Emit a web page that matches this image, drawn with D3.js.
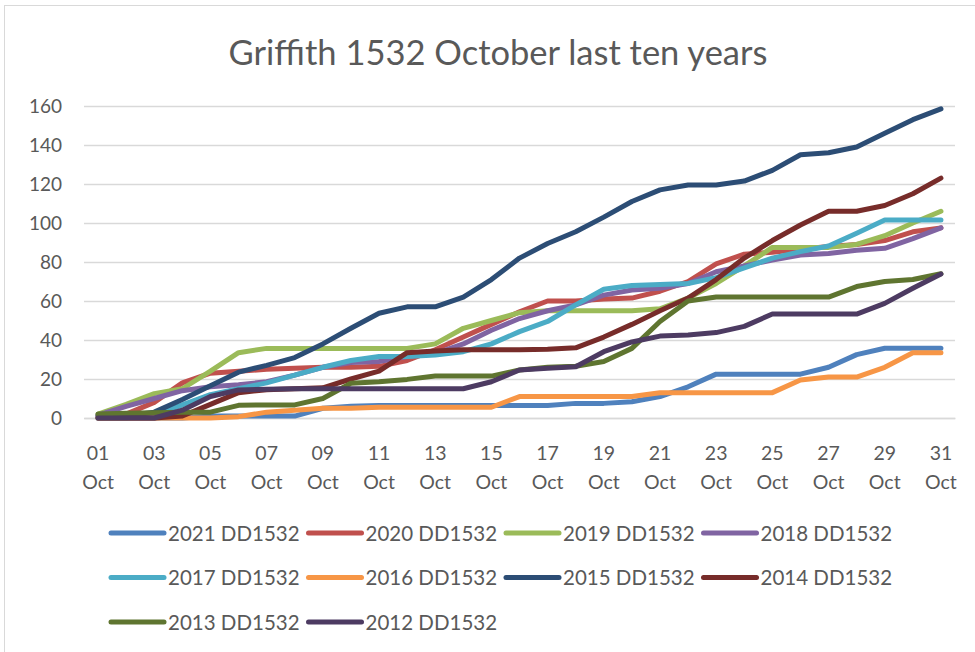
<!DOCTYPE html>
<html>
<head>
<meta charset="utf-8">
<script src="https://cdn.jsdelivr.net/npm/d3@7"></script>
<style>
  body { margin: 0; background: #fff; }
  text { font-family: Lato, "Open Sans", sans-serif; fill: #595959; }
</style>
</head>
<body>
<div id="viz"></div>
<script>
// day labels along the bottom (only odd days get a label)
const days = d3.range(1, 32).map(d => String(d).padStart(2, '0'));
const yTicks = [0, 20, 40, 60, 80, 100, 120, 140, 160];

// cumulative rain per day
const y2021 = [0,0,0,0,1,1,1,1,5,6,6.4,6.4,6.4,6.4,6.4,6.4,6.4,7.5,7.5,8.3,11,16,22.5,22.5,22.5,22.5,26,32.5,35.8,35.8,35.8];
const y2020 = [1,2,8,18,23,24,25,25.5,26,26,26.5,29.5,35,41.5,48,54.5,60,60,61,61.5,65,70,79,84,85,86.5,88,89,91,95.5,97.5];
const y2019 = [2,7,12.5,15,24,33.5,35.7,35.7,35.7,35.7,35.7,35.7,38,46,50,54,55,55,55,55,56,61.5,69,78,87.5,87.5,87.5,89,93.5,100,106];
const y2018 = [1.5,6,10,14,16,17,18.6,22,26,28.5,29,31.5,33,38,45,51,55,58,63,65.6,66.5,69,75,78,81,83.6,84.4,86,87,92,97.5];
const y2017 = [0,0,1.5,6.7,12,15,18,22,26,29.5,31.5,31.5,32.3,34,38,44.3,49.5,58,66,68,68.5,69,72,77,82,85.3,88.2,94.7,101.5,101.5,101.5];
const y2016 = [0,0,0,0,0,0.7,3,4,5,5,5.5,5.5,5.5,5.5,5.5,11,11,11,11,11,13,13,13,13,13,19.5,21,21,26,33.5,33.5];
const y2015 = [1,1,3,9.5,16.5,23.5,27,31,38,46,53.7,57,57,62,71,82,89.5,95.5,103,111,117,119.5,119.5,121.5,127,135,136,139,146,153,158.5];
const y2014 = [0,0,0,1,7,13,14.5,15,15.5,20,24,33.5,34.4,35,35,35,35.2,36,41.5,48,55,61.5,71,82,91,99,106,106,109,115,123];
const y2013 = [2,2.5,2.7,3,3,6.5,6.7,6.7,10,17.8,18.6,19.8,21.5,21.5,21.5,24.6,26,26.5,29,35.7,49.5,60,62,62,62,62,62,67.4,70,71,74];
const y2012 = [0,0,0,4,11,14.4,14.7,15,15,15,15,15,15,15,18.6,24.6,25.5,26.3,34,39,42,42.6,43.8,47,53.3,53.3,53.3,53.3,58.8,66.5,73.8];

const seriesNames = ['2021 DD1532','2020 DD1532','2019 DD1532','2018 DD1532','2017 DD1532',
                     '2016 DD1532','2015 DD1532','2014 DD1532','2013 DD1532','2012 DD1532'];
const seriesValues = [y2021, y2020, y2019, y2018, y2017, y2016, y2015, y2014, y2013, y2012];
const seriesColors = ['#4F81BD','#C0504D','#9BBB59','#8064A2','#4BACC6',
                      '#F79646','#2C4D75','#772C2A','#5F7530','#4D3B62'];

const width = 975, height = 652;
const margin = {top: 106, right: 20, bottom: 234, left: 84};

const svg = d3.select('#viz').append('svg')
    .attr('width', width)
    .attr('height', height);

// chart frame
svg.append('rect')
    .attr('x', 4.5).attr('y', 5.5)
    .attr('width', 990).attr('height', 680)
    .attr('fill', 'none')
    .attr('stroke', '#d9d9d9');

svg.append('text')
    .attr('x', 498).attr('y', 65)
    .attr('text-anchor', 'middle')
    .style('font-size', '34.5px')
    .text('Griffith 1532 October last ten years');

const x = d3.scaleBand()
    .domain(days)
    .range([margin.left, 955]);

const y = d3.scaleLinear()
    .domain([0, 160])
    .range([height - margin.bottom, margin.top]);

// gridlines + y labels
const yAxis = svg.append('g')
    .attr('transform', `translate(${margin.left},0)`)
    .call(d3.axisLeft(y).tickValues(yTicks).tickSize(-(955 - margin.left)).tickPadding(22));
yAxis.select('.domain').remove();
yAxis.selectAll('line').attr('stroke', '#d9d9d9').attr('stroke-width', 1.5);
yAxis.selectAll('text').style('font-size', '19px').attr('fill', '#595959');

// x labels, two lines each
const xAxis = svg.append('g')
    .attr('transform', `translate(0,${y(0)})`)
    .call(d3.axisBottom(x).tickSize(0).tickFormat(''));
xAxis.select('.domain').attr('stroke', '#d9d9d9').attr('stroke-width', 1.5);
xAxis.selectAll('.tick').filter((d, i) => i % 2 == 0)
    .each(function(d) {
        const t = d3.select(this).append('text')
            .attr('text-anchor', 'middle')
            .style('font-size', '19.5px');
        t.append('tspan').attr('x', 0).attr('y', 42).text(d);
        t.append('tspan').attr('x', 0).attr('y', 71).text('Oct');
    });

const line = d3.line()
    .x((d, i) => x(days[i]) + x.bandwidth() / 2)
    .y(d => y(d));

svg.append('g')
    .selectAll('path')
    .data(seriesValues)
    .join('path')
    .attr('d', line)
    .attr('fill', 'none')
    .attr('stroke', (d, i) => seriesColors[i])
    .attr('stroke-width', 5)
    .attr('stroke-linejoin', 'round')
    .attr('stroke-linecap', 'round');

// legend, 4 per row
const legend = svg.append('g')
    .selectAll('g')
    .data(seriesNames)
    .join('g')
    .attr('transform', (d, i) => `translate(${111 + (i % 4) * 197.5},${533 + Math.floor(i / 4) * 44.5})`);
legend.append('line')
    .attr('x1', 0).attr('x2', 53)
    .attr('stroke', (d, i) => seriesColors[i])
    .attr('stroke-width', 5)
    .attr('stroke-linecap', 'round');
legend.append('text')
    .attr('x', 57).attr('y', 7.5)
    .style('font-size', '20.5px')
    .text(d => d);
</script>
</body>
</html>
